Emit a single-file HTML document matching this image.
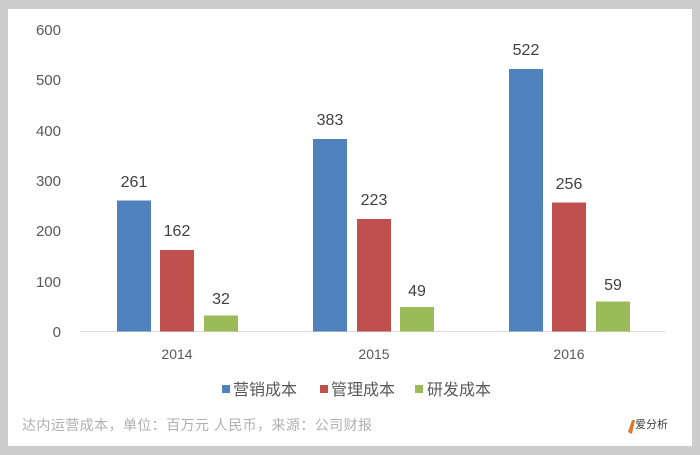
<!DOCTYPE html>
<html><head><meta charset="utf-8"><style>
body{margin:0;width:700px;height:455px;background:#cdcdcd;overflow:hidden;font-family:"Liberation Sans","Noto Sans CJK SC",sans-serif}
#card{position:absolute;left:8px;top:9px;width:684px;height:437px;background:#fff}
</style></head><body>
<div id="card"></div>
<svg width="700" height="455" style="position:absolute;left:0;top:0" font-family="Liberation Sans, Noto Sans CJK SC, sans-serif">
<g fill="#595959" font-size="15" text-anchor="end">
<text x="61" y="35">600</text><text x="61" y="85">500</text><text x="61" y="136">400</text>
<text x="61" y="186">300</text><text x="61" y="236">200</text><text x="61" y="287">100</text><text x="61" y="337">0</text>
</g>
<line x1="80" y1="331.5" x2="665" y2="331.5" stroke="#d9d9d9"/>
<g>
<rect x="117" y="200.5" width="34" height="131" fill="#4f81bd"/>
<rect x="160" y="250" width="34" height="81.5" fill="#c0504d"/>
<rect x="204" y="315.5" width="34" height="16" fill="#9bbb59"/>
<rect x="313" y="139" width="34" height="192.5" fill="#4f81bd"/>
<rect x="357" y="219" width="34" height="112.5" fill="#c0504d"/>
<rect x="400" y="307" width="34" height="24.5" fill="#9bbb59"/>
<rect x="509" y="69" width="34" height="262.5" fill="#4f81bd"/>
<rect x="552" y="202.5" width="34" height="129" fill="#c0504d"/>
<rect x="596" y="301.5" width="34" height="30" fill="#9bbb59"/>
</g>
<g fill="#404040" font-size="16" text-anchor="middle">
<text x="134" y="187">261</text><text x="177" y="236">162</text><text x="221" y="304">32</text>
<text x="330" y="125">383</text><text x="374" y="205">223</text><text x="417" y="296">49</text>
<text x="526" y="55">522</text><text x="569" y="189">256</text><text x="613" y="290">59</text>
</g>
<g fill="#595959" font-size="14" text-anchor="middle">
<text x="177" y="359">2014</text><text x="374" y="359">2015</text><text x="569" y="359">2016</text>
</g>
<g font-size="16" fill="#595959">
<rect x="222" y="385" width="8" height="8" fill="#4f81bd"/><text x="233" y="395">营销成本</text>
<rect x="320" y="385" width="8" height="8" fill="#c0504d"/><text x="331" y="395">管理成本</text>
<rect x="415" y="385" width="8" height="8" fill="#9bbb59"/><text x="427" y="395">研发成本</text>
</g>
<text x="22" y="430" font-size="14" fill="#b0b0b0" textLength="350">达内运营成本，单位：百万元 人民币，来源：公司财报</text>
<path d="M628 432 l4 -12 l3 0 l-3 14 z" fill="#e07a2a"/>
<text x="635" y="428" font-size="11" fill="#404040">爱分析</text>
</svg>
</body></html>
